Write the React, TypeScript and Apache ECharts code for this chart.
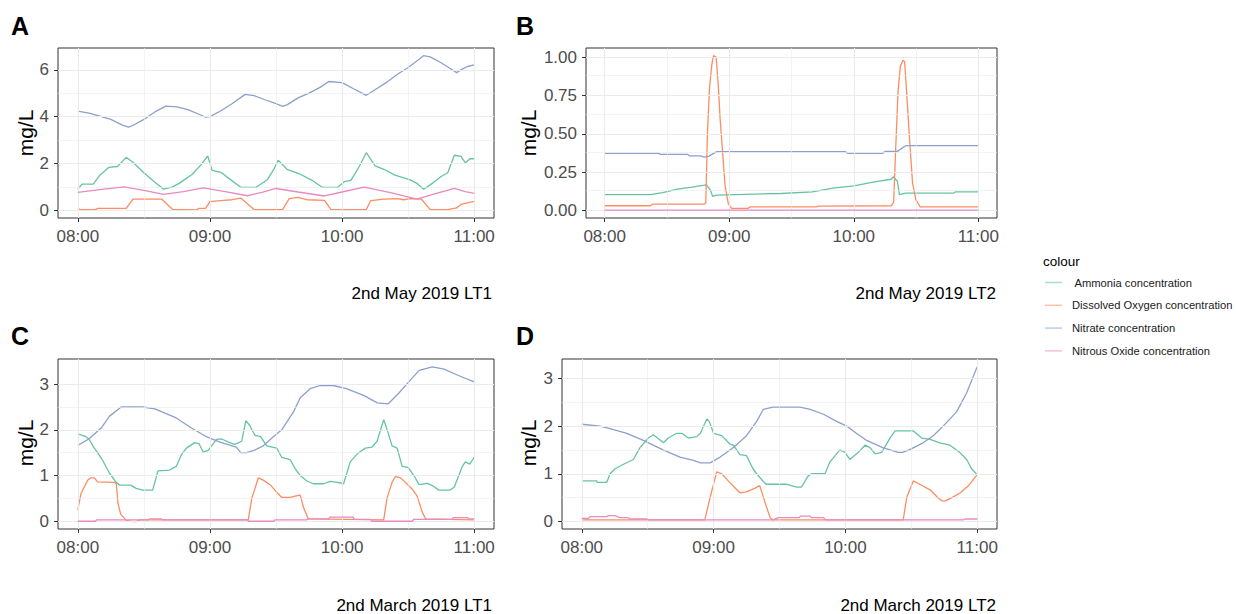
import React, { useEffect, useRef } from "react";
import * as echarts from "echarts";

// ---------- labels ----------
const seriesNames = [
  " Ammonia concentration",
  "Dissolved Oxygen concentration",
  "Nitrate concentration",
  "Nitrous Oxide concentration",
];
const seriesColors = ["#66C2A5", "#FC8D62", "#8DA0CB", "#E78AC3"];
const timeTicks = [0, 60, 120, 180]; // minutes after 08:00
const timeLabels = ["08:00", "09:00", "10:00", "11:00"];
const timeMinor = [30, 90, 150];
const panelLetters = ["A", "B", "C", "D"];
const panelCaptions = ["2nd May 2019 LT1", "2nd May 2019 LT2", "2nd March 2019 LT1", "2nd March 2019 LT2"];

const aYTicks = [0, 2, 4, 6];
const aYMinor = [1, 3, 5];
const bYTicks = [0, 0.25, 0.5, 0.75, 1];
const bYMinor = [0.125, 0.375, 0.625, 0.875];
const cYTicks = [0, 1, 2, 3];
const cYMinor = [0.5, 1.5, 2.5];
const dYTicks = [0, 1, 2, 3];
const dYMinor = [0.5, 1.5, 2.5];

// ---------- Panel A : 2nd May 2019 LT1 ----------
const aAmmoniaT = [0,2,7,10,14,18,22,25,30,35,39,43,46,52,56,59,61,65,69,74,81,86,89,91,95,101,106,111,118,121,124,128,131,135,139,144,151,154,157,161,165,168,171,174,176,178,180];
const aAmmoniaV = [0.9,1.12,1.12,1.5,1.83,1.87,2.26,2.05,1.6,1.2,0.9,1.0,1.15,1.54,1.95,2.32,1.7,1.62,1.33,0.98,0.98,1.3,1.75,2.14,1.75,1.54,1.3,0.98,0.98,1.22,1.28,1.9,2.46,1.9,1.75,1.5,1.3,1.15,0.9,1.15,1.44,1.6,2.35,2.3,2.02,2.2,2.2];
const aOxygenT = [0,1,8,9,22,25,38,43,54,55,58,60,66,70,74,80,93,96,100,104,112,115,131,133,139,145,148,151,156,160,168,172,174,180];
const aOxygenV = [0.08,0.03,0.03,0.08,0.08,0.48,0.48,0.04,0.02,0.08,0.08,0.37,0.42,0.45,0.52,0.03,0.03,0.5,0.55,0.45,0.42,0.03,0.03,0.41,0.48,0.5,0.45,0.5,0.48,0.03,0.03,0.1,0.25,0.38];
const aNitrateT = [0,5,10,15,20,23,25,30,35,40,45,50,55,58,60,65,70,76,80,85,90,93,95,100,105,110,114,120,125,131,135,140,145,150,155,157,160,165,170,172,175,177,180];
const aNitrateV = [4.23,4.15,4.02,3.88,3.65,3.55,3.62,3.88,4.2,4.45,4.42,4.3,4.1,3.98,4.0,4.25,4.55,4.95,4.9,4.72,4.55,4.44,4.5,4.8,5.0,5.25,5.5,5.45,5.2,4.91,5.15,5.45,5.8,6.1,6.45,6.6,6.55,6.3,6.0,5.88,6.05,6.14,6.21];
const aNitrousT = [0,10,21,30,39,48,57,67,77,84,90,100,112,120,130,142,154,162,171,176,180];
const aNitrousV = [0.76,0.88,1.0,0.85,0.68,0.8,0.96,0.8,0.62,0.78,0.93,0.78,0.61,0.78,0.99,0.75,0.48,0.7,0.93,0.8,0.72];

// ---------- Panel B : 2nd May 2019 LT2 ----------
const bAmmoniaT = [0,22,28,35,42,48,49,51,52,54,85,100,110,120,130,138,139,141,142,145,168,169,180];
const bAmmoniaV = [0.102,0.102,0.115,0.138,0.152,0.165,0.168,0.13,0.091,0.1,0.11,0.12,0.145,0.16,0.186,0.203,0.219,0.19,0.102,0.112,0.112,0.121,0.121];
const bOxygenT = [0,22,23,48,48.7,49.5,50.5,51.6,52.4,53.7,54.8,55.6,56.7,58,59.6,61.2,69,70,102,103,138,139.2,140.3,141.3,142.4,143.7,144.5,145.6,146.9,148.3,149.9,152,180];
const bOxygenV = [0.03,0.03,0.04,0.04,0.05,0.5,0.8,0.95,1.01,1.0,0.8,0.6,0.4,0.16,0.04,0.013,0.013,0.022,0.022,0.027,0.03,0.05,0.44,0.77,0.94,0.98,0.97,0.74,0.46,0.18,0.07,0.022,0.022];
const bNitrateT = [0,26,27,40,41,46,48,50,54,116,117,134,135,141,145,180];
const bNitrateV = [0.372,0.372,0.365,0.365,0.355,0.355,0.348,0.352,0.383,0.383,0.372,0.372,0.385,0.385,0.422,0.422];
const bNitrousT = [0,180];
const bNitrousV = [0.002,0.002];

// ---------- Panel C : 2nd March 2019 LT1 ----------
const cAmmoniaT = [0,3.7,5,7.5,9,11.3,14.4,17.4,19,24,26.5,29.5,34,36.4,41.7,44.7,47,49.3,53.1,55,57,59.2,63,65.3,69,71.3,74.4,76.3,78,80.4,83,85.8,90.3,92.6,96.4,98.7,101,104,107,111.6,114.6,118,120.7,123.7,127.5,130.6,133.6,135.9,138.9,140.5,142.7,145,147.3,150,152.6,155,158.7,161,164,169,171,174.6,176,178,180];
const cAmmoniaV = [1.91,1.85,1.8,1.6,1.5,1.33,1.05,0.85,0.79,0.79,0.72,0.68,0.68,1.1,1.12,1.2,1.45,1.6,1.72,1.7,1.51,1.55,1.79,1.8,1.72,1.68,1.75,2.2,2.1,1.88,1.85,1.65,1.6,1.4,1.35,1.15,1.0,0.88,0.82,0.82,0.87,0.85,0.82,1.3,1.5,1.6,1.62,1.75,2.22,2.0,1.65,1.6,1.2,1.18,1.0,0.8,0.83,0.78,0.68,0.68,0.75,1.2,1.3,1.25,1.4];
const cOxygenT = [0,1.4,4.5,6,7.5,9,16.6,17.5,18.2,19.5,22,25,26.5,28,77.4,79,82,84.2,87.3,91,92.6,96.4,98.7,101,102.5,104.7,138.9,140.4,142.7,144.2,146.5,148.8,151.9,154.1,156.4,158,180];
const cOxygenV = [0.25,0.6,0.9,0.95,0.95,0.86,0.85,0.82,0.4,0.15,0.02,-0.01,-0.01,0.03,0.03,0.5,0.95,0.9,0.8,0.6,0.52,0.52,0.55,0.57,0.3,0.05,0.03,0.5,0.85,0.98,0.95,0.85,0.7,0.55,0.2,0.05,0.03];
const cNitrateT = [0,5,10.6,14.4,19.7,29.5,35,44.7,51.6,58.4,64.5,72,74,76.6,80,84.2,88.8,92.6,98,101,105.5,110,116,122,130,136,141,145.7,150.3,155,161,166.3,172.3,180];
const cNitrateV = [1.66,1.8,2.04,2.3,2.5,2.5,2.46,2.26,2.04,1.85,1.73,1.62,1.5,1.5,1.55,1.65,1.85,2.0,2.4,2.7,2.9,2.97,2.97,2.9,2.75,2.59,2.57,2.8,3.05,3.3,3.38,3.33,3.2,3.05];
const cNitrousT = [0,8,8.5,32,32.5,38,38.5,77,77.5,89,89.5,104,104.5,114,114.5,125,125.5,133,133.5,152,152.5,170,170.5,177,177.5,180];
const cNitrousV = [0,0,0.03,0.03,0.05,0.05,0.03,0.03,0,0,0.03,0.03,0.05,0.05,0.09,0.09,0.04,0.04,0,0,0.04,0.04,0.08,0.08,0.05,0.05];

// ---------- Panel D : 2nd March 2019 LT2 ----------
const dAmmoniaT = [0,6.8,7,11.4,12.9,15,19,23.5,26.5,30.3,32.6,37.2,39.4,43.2,45.5,48.5,52.3,54,56.9,58,60,63.7,67.5,69,72,75,78,79.6,83.4,84,93,97.8,100,103,104.6,110.7,113,117.5,119.8,122,125.9,128.9,131.2,133.5,136.5,140.3,142.6,150.9,154.7,158.5,163,167.6,172,175.2,177.5,180];
const dAmmoniaV = [0.85,0.85,0.82,0.82,1.0,1.1,1.2,1.3,1.55,1.75,1.82,1.65,1.75,1.85,1.85,1.75,1.78,1.85,2.15,2.1,1.85,1.8,1.62,1.6,1.4,1.38,1.1,1.0,0.8,0.78,0.78,0.72,0.72,0.95,1.0,1.0,1.25,1.5,1.45,1.3,1.45,1.6,1.55,1.42,1.45,1.75,1.9,1.9,1.75,1.72,1.65,1.6,1.45,1.3,1.1,0.98];
const dOxygenT = [0,56,58.4,61.4,63.7,66.7,69.8,72,75,78.9,81,83.4,85.7,87,146.3,147.9,150.9,153,158.9,162,164,165.5,168.5,172.3,176,180];
const dOxygenV = [0.03,0.03,0.5,1.04,1.0,0.85,0.7,0.6,0.62,0.7,0.75,0.4,0.08,0.03,0.03,0.5,0.85,0.8,0.65,0.5,0.43,0.43,0.5,0.6,0.75,0.98];
const dNitrateT = [0,8.3,12.9,20.5,28,37,44.7,50.8,54,58.4,63,69,75,79.6,82.6,87,99.3,104,110,116,120.6,125,129.7,137,144,146,149,155.4,160,164.5,170.6,175.2,180];
const dNitrateV = [2.04,2.0,1.95,1.85,1.7,1.5,1.35,1.28,1.23,1.23,1.35,1.55,1.8,2.1,2.35,2.4,2.4,2.35,2.25,2.1,2.0,1.85,1.7,1.55,1.45,1.45,1.5,1.65,1.8,2.0,2.3,2.7,3.25];
const dNitrousT = [0,3,3.8,11.4,12,15,17.4,21,22,29.6,30.5,87,89.5,99,99.5,104,104.5,110,111,173.6,174.4,180];
const dNitrousV = [0.06,0.06,0.1,0.1,0.12,0.12,0.08,0.08,0.05,0.05,0.03,0.03,0.08,0.08,0.11,0.11,0.08,0.08,0.03,0.03,0.05,0.05];

const FONT = "'Liberation Sans', Arial, Helvetica, sans-serif";

const zip = (t: number[], v: number[]) => t.map((x, i) => [x, v[i]]);

const panels = [
  {
    grid: { left: 58, top: 48, width: 436, height: 170 },
    yMin: -0.33, yMax: 6.93, yTicks: aYTicks, yMinor: aYMinor, digits: 0,
    letterPos: [11, 26], titlePos: [25, 133], captionPos: [492, 293],
    data: [[aAmmoniaT, aAmmoniaV], [aOxygenT, aOxygenV], [aNitrateT, aNitrateV], [aNitrousT, aNitrousV]],
  },
  {
    grid: { left: 586, top: 48, width: 411, height: 170 },
    yMin: -0.05, yMax: 1.06, yTicks: bYTicks, yMinor: bYMinor, digits: 2,
    letterPos: [516, 26], titlePos: [528, 133], captionPos: [996, 293],
    data: [[bAmmoniaT, bAmmoniaV], [bOxygenT, bOxygenV], [bNitrateT, bNitrateV], [bNitrousT, bNitrousV]],
  },
  {
    grid: { left: 58, top: 359, width: 436, height: 170 },
    yMin: -0.17, yMax: 3.55, yTicks: cYTicks, yMinor: cYMinor, digits: 0,
    letterPos: [11, 336], titlePos: [25, 443], captionPos: [492, 605],
    data: [[cAmmoniaT, cAmmoniaV], [cOxygenT, cOxygenV], [cNitrateT, cNitrateV], [cNitrousT, cNitrousV]],
  },
  {
    grid: { left: 562, top: 359, width: 435, height: 170 },
    yMin: -0.16, yMax: 3.41, yTicks: dYTicks, yMinor: dYMinor, digits: 0,
    letterPos: [516, 336], titlePos: [528, 443], captionPos: [996, 605],
    data: [[dAmmoniaT, dAmmoniaV], [dOxygenT, dOxygenV], [dNitrateT, dNitrateV], [dNitrousT, dNitrousV]],
  },
];

function buildOption() {
  const grids: any[] = [];
  const xAxes: any[] = [];
  const yAxes: any[] = [];
  const series: any[] = [];
  const graphics: any[] = [];

  panels.forEach((p, i) => {
    grids.push({
      ...p.grid,
      show: true,
      borderColor: "#333333",
      borderWidth: 1,
      backgroundColor: "#ffffff",
      containLabel: false,
    });
    xAxes.push({
      type: "value",
      gridIndex: i,
      min: -9,
      max: 189,
      axisLine: { show: false, onZero: false },
      splitLine: { show: false },
      axisTick: { show: true, length: 4, customValues: timeTicks, lineStyle: { color: "#333333", width: 1 } },
      axisLabel: {
        customValues: timeTicks,
        formatter: (v: number) => timeLabels[timeTicks.indexOf(v)] ?? "",
        color: "#4D4D4D",
        fontSize: 17,
        fontFamily: FONT,
        margin: 10,
      },
    });
    yAxes.push({
      type: "value",
      gridIndex: i,
      min: p.yMin,
      max: p.yMax,
      axisLine: { show: false, onZero: false },
      splitLine: { show: false },
      axisTick: { show: true, length: 4, customValues: p.yTicks, lineStyle: { color: "#333333", width: 1 } },
      axisLabel: {
        customValues: p.yTicks,
        formatter: (v: number) => v.toFixed(p.digits),
        color: "#4D4D4D",
        fontSize: 17,
        fontFamily: FONT,
        margin: 9,
      },
    });
    // grid lines
    const major = { color: "#EBEBEB", width: 1.1, type: "solid" };
    const minor = { color: "#EBEBEB", width: 0.6, type: "solid" };
    series.push({
      type: "line",
      name: "grid" + i,
      xAxisIndex: i,
      yAxisIndex: i,
      data: [],
      z: 1,
      silent: true,
      markLine: {
        silent: true,
        symbol: ["none", "none"],
        label: { show: false },
        emphasis: { disabled: true },
        data: [
          ...timeMinor.map((v) => ({ xAxis: v, lineStyle: minor })),
          ...p.yMinor.map((v) => ({ yAxis: v, lineStyle: minor })),
          ...timeTicks.map((v) => ({ xAxis: v, lineStyle: major })),
          ...p.yTicks.map((v) => ({ yAxis: v, lineStyle: major })),
        ],
      },
    });
    p.data.forEach((d, k) => {
      series.push({
        type: "line",
        name: seriesNames[k],
        xAxisIndex: i,
        yAxisIndex: i,
        data: zip(d[0] as number[], d[1] as number[]),
        showSymbol: false,
        symbol: "none",
        color: seriesColors[k],
        lineStyle: { color: seriesColors[k], width: 1.3 },
        z: 2 + k,
        silent: true,
      });
    });
    graphics.push({
      type: "text",
      x: p.letterPos[0],
      y: p.letterPos[1],
      style: { text: panelLetters[i], fontSize: 25, fontWeight: "bold", fontFamily: FONT, fill: "#000", textAlign: "left", textVerticalAlign: "middle" },
    });
    graphics.push({
      type: "text",
      x: p.titlePos[0],
      y: p.titlePos[1],
      rotation: Math.PI / 2,
      style: { text: "mg/L", fontSize: 21, fontFamily: FONT, fill: "#000", textAlign: "center", textVerticalAlign: "middle" },
    });
    graphics.push({
      type: "text",
      x: p.captionPos[0],
      y: p.captionPos[1],
      style: { text: panelCaptions[i], fontSize: 17, fontFamily: FONT, fill: "#000", textAlign: "right", textVerticalAlign: "middle" },
    });
  });

  graphics.push({
    type: "text",
    x: 1043,
    y: 261,
    style: { text: "colour", fontSize: 13.5, fontFamily: FONT, fill: "#000", textAlign: "left", textVerticalAlign: "middle" },
  });

  return {
    animation: false,
    backgroundColor: "#ffffff",
    grid: grids,
    xAxis: xAxes,
    yAxis: yAxes,
    series,
    graphic: graphics,
    legend: {
      data: seriesNames,
      orient: "vertical",
      left: 1040,
      top: 272,
      icon: "rect",
      itemWidth: 17,
      itemHeight: 1.5,
      itemGap: 11.8,
      selectedMode: false,
      itemStyle: { opacity: 0.55 },
      textStyle: { fontSize: 11.2, fontFamily: FONT, color: "#1A1A1A", padding: [0, 0, 0, 5] },
    },
  };
}

export default function App() {
  const ref = useRef<HTMLDivElement>(null);
  useEffect(() => {
    if (!ref.current) return;
    const chart = echarts.init(ref.current, null, { renderer: "svg" });
    chart.setOption(buildOption() as any);
    return () => chart.dispose();
  }, []);
  return (
    <div
      ref={ref}
      style={{ position: "fixed", left: 0, top: 0, width: 1236, height: 614, background: "#fff" }}
    />
  );
}
